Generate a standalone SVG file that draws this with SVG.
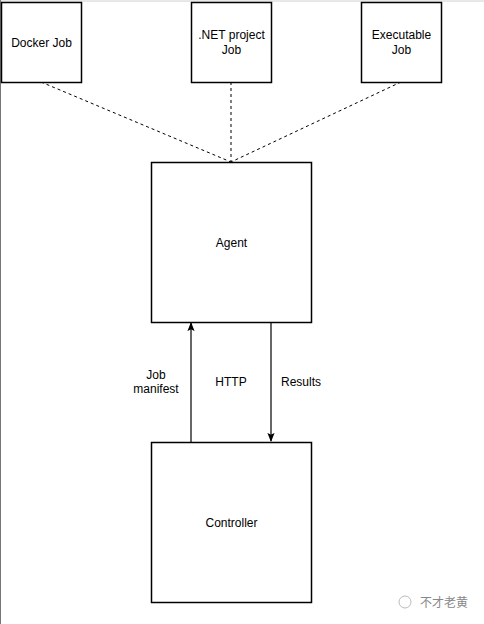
<svg xmlns="http://www.w3.org/2000/svg" width="484" height="624" viewBox="0 0 484 624">
<style>
.box{fill:#fff;stroke:#000;stroke-width:1.5}
.lbl{font-family:"Liberation Sans",Arial,sans-serif;font-size:12px;fill:#000;text-anchor:middle}
.dash{fill:none;stroke:#000;stroke-width:1;stroke-dasharray:3,3}
.arr{fill:none;stroke:#000;stroke-width:1.2}
</style>
<defs>
<marker id="ah" viewBox="0 0 10 10" refX="9" refY="5" markerWidth="9" markerHeight="9" orient="auto" markerUnits="userSpaceOnUse">
<path d="M0,1 L10,5 L0,9 L2,5 Z" fill="#000"/>
</marker>
</defs>
<rect x="0" y="0" width="484" height="624" fill="#fff"/>
<line x1="0" y1="1" x2="484" y2="1" stroke="#d0d0d0" stroke-width="1"/>
<line x1="0.5" y1="0" x2="0.5" y2="624" stroke="#777" stroke-width="1"/>
<g id="connectors">
<line class="dash" x1="41" y1="82" x2="231" y2="162"/>
<line class="dash" x1="231" y1="82" x2="231" y2="162"/>
<line class="dash" x1="401" y1="82" x2="231" y2="162"/>
<line class="arr" x1="191" y1="442" x2="191" y2="323" marker-end="url(#ah)"/>
<line class="arr" x1="271" y1="322" x2="271" y2="441" marker-end="url(#ah)"/>
<text class="lbl" x="156" y="379">Job</text>
<text class="lbl" x="156" y="393">manifest</text>
<text class="lbl" x="231" y="386">HTTP</text>
<text class="lbl" x="301" y="386">Results</text>
</g>
<g id="docker">
<rect class="box" x="1.5" y="2.5" width="80" height="80"/>
<text class="lbl" x="41.5" y="47">Docker Job</text>
</g>
<g id="dotnet">
<rect class="box" x="191.5" y="2.5" width="80" height="80"/>
<text class="lbl" x="231.5" y="39">.NET project</text>
<text class="lbl" x="231.5" y="54">Job</text>
</g>
<g id="exe">
<rect class="box" x="361.5" y="2.5" width="80" height="80"/>
<text class="lbl" x="401.5" y="39">Executable</text>
<text class="lbl" x="401.5" y="54">Job</text>
</g>
<g id="agent">
<rect class="box" x="151.5" y="162.5" width="160" height="160"/>
<text class="lbl" x="231.5" y="247">Agent</text>
</g>
<g id="controller">
<rect class="box" x="151.5" y="442.5" width="160" height="160"/>
<text class="lbl" x="231.5" y="527">Controller</text>
</g>
<g id="watermark">
<circle cx="405" cy="602" r="6" fill="none" stroke="#bbb" stroke-width="1"/>
<text x="420" y="607" font-family="'Noto Sans CJK SC',sans-serif" font-size="12" fill="#888">不才老黄</text>
</g>
</svg>
